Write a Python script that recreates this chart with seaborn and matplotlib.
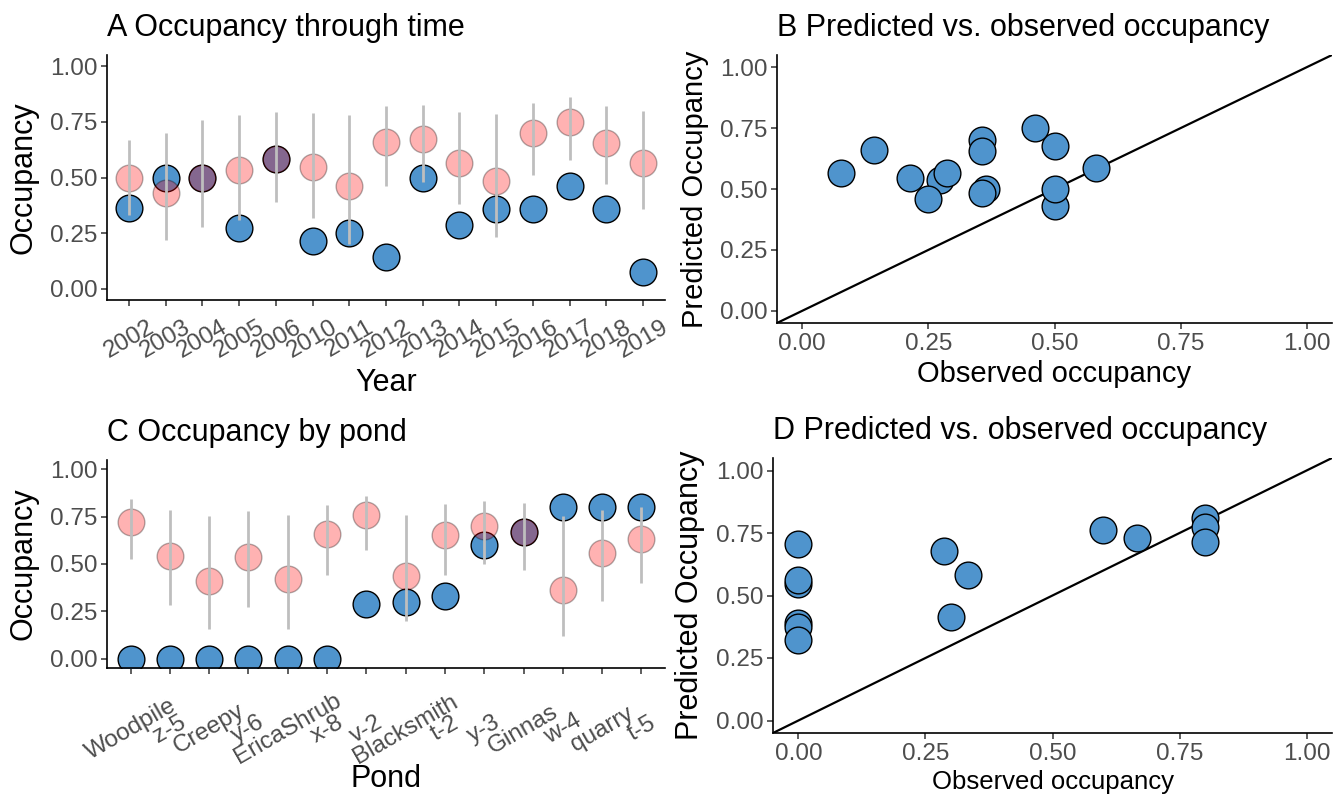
import numpy as np
import pandas as pd
import matplotlib
matplotlib.use("Agg")
import matplotlib.pyplot as plt
import seaborn as sns

# ---------------- data ----------------
years = ["2002", "2003", "2004", "2005", "2006", "2010", "2011", "2012",
         "2013", "2014", "2015", "2016", "2017", "2018", "2019"]
year_obs = [0.364, 0.50, 0.50, 0.273, 0.583, 0.214, 0.25, 0.143,
            0.50, 0.286, 0.357, 0.357, 0.462, 0.357, 0.077]
year_pred = [0.50, 0.43, 0.50, 0.535, 0.585, 0.545, 0.46, 0.66,
             0.675, 0.565, 0.485, 0.70, 0.75, 0.655, 0.565]
year_lo = [0.33, 0.22, 0.28, 0.31, 0.39, 0.32, 0.20, 0.46,
           0.48, 0.38, 0.235, 0.51, 0.58, 0.47, 0.36]
year_hi = [0.67, 0.70, 0.76, 0.78, 0.795, 0.79, 0.78, 0.82,
           0.825, 0.795, 0.785, 0.835, 0.86, 0.82, 0.80]

ponds = ["Woodpile", "z-5", "Creepy", "y-6", "EricaShrub", "x-8", "v-2",
         "Blacksmith", "t-2", "y-3", "Ginnas", "w-4", "quarry", "t-5"]
pond_obs = [0.0, 0.0, 0.0, 0.0, 0.0, 0.0, 0.286, 0.30, 0.333, 0.60,
            0.667, 0.80, 0.80, 0.80]
pond_pred = [0.72, 0.54, 0.41, 0.535, 0.42, 0.66, 0.76, 0.435, 0.655,
             0.70, 0.67, 0.365, 0.56, 0.63]
pond_lo = [0.525, 0.285, 0.155, 0.275, 0.158, 0.44, 0.575, 0.198, 0.443,
           0.50, 0.47, 0.12, 0.305, 0.397]
pond_hi = [0.842, 0.785, 0.752, 0.778, 0.76, 0.812, 0.862, 0.76, 0.818,
           0.833, 0.823, 0.752, 0.786, 0.804]

# Panel D (cross-validated predictions by pond)
d_obs = [0.0, 0.0, 0.0, 0.0, 0.0, 0.0, 0.286, 0.30, 0.333, 0.60,
         0.667, 0.80, 0.80, 0.80]
d_pred = [0.708, 0.548, 0.392, 0.562, 0.376, 0.323, 0.679, 0.416, 0.582,
          0.761, 0.730, 0.811, 0.774, 0.714]

df_year = pd.DataFrame({"Year": years, "obs": year_obs, "pred": year_pred,
                        "lo": year_lo, "hi": year_hi})
df_pond = pd.DataFrame({"Pond": ponds, "obs": pond_obs, "pred": pond_pred,
                        "lo": pond_lo, "hi": pond_hi})
df_d = pd.DataFrame({"obs": d_obs, "pred": d_pred})

# ---------------- style ----------------
sns.set_style("ticks")
plt.rcParams["font.family"] = ["Liberation Sans", "DejaVu Sans"]
plt.rcParams["text.color"] = "black"
plt.rcParams["axes.labelcolor"] = "black"
plt.rcParams["axes.titlecolor"] = "black"

BLUE = "#4F94CD"
PINK = "red"
GREY = "#BEBEBE"
TICKC = "#4D4D4D"
S = 370

W, H = 1343, 798
fig = plt.figure(figsize=(W / 100, H / 100), dpi=100)


def box(l, t, r, b):
    return [l / W, 1 - b / H, (r - l) / W, (b - t) / H]


axA = fig.add_axes(box(107, 55, 665, 300))
axB = fig.add_axes(box(777, 55, 1332, 323))
axC = fig.add_axes(box(107, 460, 665, 668))
axD = fig.add_axes(box(773, 458, 1332, 733))


def style(ax, tick_size=17.5):
    for s in ["top", "right"]:
        ax.spines[s].set_visible(False)
    for s in ["left", "bottom"]:
        ax.spines[s].set_linewidth(1.2)
        ax.spines[s].set_color("black")
    ax.tick_params(axis="both", length=4, width=1.1, color="#333333",
                   labelcolor=TICKC, labelsize=tick_size, pad=3)
    ax.set_ylim(-0.05, 1.05)
    ax.set_yticks([0, 0.25, 0.5, 0.75, 1.0])
    ax.set_yticklabels(["0.00", "0.25", "0.50", "0.75", "1.00"])
    ax.grid(False)


def categorical_panel(ax, df, xcol, title, xlabel, label_pad, xlabelpad):
    n = len(df)
    pos = np.arange(n)
    sns.scatterplot(data=df, x=xcol, y="obs", ax=ax, s=S, color=BLUE,
                    edgecolor="black", linewidth=1.0, zorder=2, legend=False)
    sns.scatterplot(data=df, x=xcol, y="pred", ax=ax, s=S, color=PINK,
                    edgecolor="black", linewidth=1.0, alpha=0.3, zorder=3,
                    legend=False)
    ax.vlines(pos, df["lo"], df["hi"], color=GREY, linewidth=2.0, zorder=4)
    style(ax)
    ax.set_xlim(-0.6, n - 0.4)
    ax.set_xticks(pos)
    ax.set_xticklabels(df[xcol])
    for lab in ax.get_xticklabels():
        lab.set_rotation(30)
        lab.set_rotation_mode("anchor")
        lab.set_ha("center")
        lab.set_va("center")
    ax.tick_params(axis="x", pad=label_pad)
    ax.set_title(title, loc="left", fontsize=22, pad=14, color="black")
    ax.set_xlabel(xlabel, fontsize=22, color="black", labelpad=xlabelpad)
    ax.set_ylabel("Occupancy", fontsize=22, labelpad=8, color="black")


categorical_panel(axA, df_year, "Year", "A Occupancy through time", "Year",
                  24, 4)
categorical_panel(axC, df_pond, "Pond", "C Occupancy by pond", "Pond",
                  40, -3)


def scatter_panel(ax, df, title, xlab_size, ylab_size):
    sns.scatterplot(data=df, x="obs", y="pred", ax=ax, s=S, color=BLUE,
                    edgecolor="black", linewidth=1.0, zorder=3, legend=False)
    ax.axline((0, 0), slope=1, color="black", linewidth=1.6, zorder=2)
    style(ax)
    ax.set_xlim(-0.05, 1.05)
    ax.set_xticks([0, 0.25, 0.5, 0.75, 1.0])
    ax.set_xticklabels(["0.00", "0.25", "0.50", "0.75", "1.00"])
    ax.set_title(title, loc="left", fontsize=22, pad=14, color="black")
    ax.set_xlabel("Observed occupancy", fontsize=xlab_size, labelpad=4,
                  color="black")
    ax.set_ylabel("Predicted Occupancy", fontsize=ylab_size, labelpad=8,
                  color="black")


scatter_panel(axB, pd.DataFrame({"obs": year_obs, "pred": year_pred}),
              "B Predicted vs. observed occupancy", 21, 21)
scatter_panel(axD, df_d, "D Predicted vs. observed occupancy", 18.5, 22)

fig.savefig("out.png", dpi=100)
